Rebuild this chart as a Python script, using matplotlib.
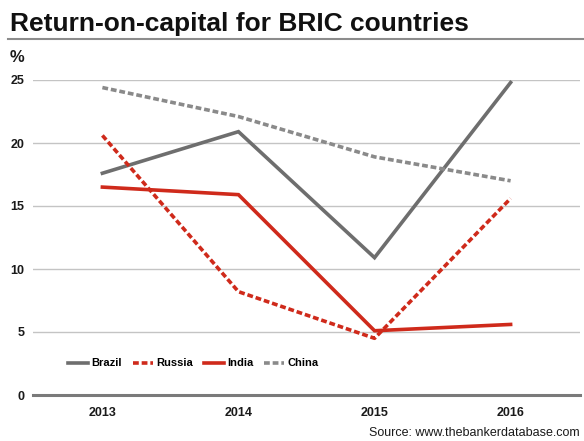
import matplotlib
matplotlib.use("Agg")
import matplotlib.pyplot as plt
from matplotlib.lines import Line2D

years = [2013, 2014, 2015, 2016]
brazil = [17.6, 20.9, 10.9, 24.8]
russia = [20.6, 8.2, 4.5, 15.6]
india = [16.5, 15.9, 5.1, 5.6]
china = [24.4, 22.1, 18.9, 17.0]
y_ticks = [0, 5, 10, 15, 20, 25]

RED = "#cf2a1b"
GREY = "#6e6e6e"
GREY_LIGHT = "#8a8a8a"
DASH = (0, (1.6, 0.8))

plt.rcParams["font.family"] = ["Liberation Sans", "DejaVu Sans"]

fig = plt.figure(figsize=(5.84, 4.41), dpi=100)
ax = fig.add_axes([33 / 584, 46 / 441, 547 / 584, 315 / 441])

ax.plot(years, brazil, color=GREY, lw=2.6, solid_joinstyle="miter", clip_on=False)
ax.plot(years, china, color=GREY_LIGHT, lw=2.6, ls=DASH, clip_on=False)
ax.plot(years, india, color=RED, lw=2.6, solid_joinstyle="miter", clip_on=False)
ax.plot(years, russia, color=RED, lw=2.6, ls=DASH, clip_on=False)

ax.set_xlim(2012.49, 2016.51)
ax.set_ylim(0, 25)
ax.set_xticks(years)
ax.set_yticks(y_ticks)
ax.set_yticklabels([str(v) for v in y_ticks])
ax.tick_params(length=0, labelsize=9, colors="#1a1a1a")
ax.tick_params(axis="y", pad=6)
ax.tick_params(axis="x", pad=9)
for lab in ax.get_xticklabels() + ax.get_yticklabels():
    lab.set_fontweight("bold")

ax.grid(axis="y", color="#c4c4c4", lw=1)
ax.set_axisbelow(True)
for s in ax.spines.values():
    s.set_visible(False)
ax.axhline(0, color="#7a7a7a", lw=2.2, clip_on=False, zorder=1)

handles = [
    Line2D([], [], color=GREY, lw=2.6),
    Line2D([], [], color=RED, lw=2.6, ls=DASH),
    Line2D([], [], color=RED, lw=2.6),
    Line2D([], [], color=GREY_LIGHT, lw=2.6, ls=DASH),
]
leg = ax.legend(handles, ["Brazil", "Russia", "India", "China"], ncol=4,
                loc="center left", bbox_to_anchor=(0.045, 0.1), frameon=False,
                handlelength=1.8, handletextpad=0.3, columnspacing=1.0,
                prop={"weight": "bold", "size": 8})

fig.text(10 / 584, 1 - 31 / 441, "Return-on-capital for BRIC countries",
         fontsize=19, fontweight="bold", color="#111111", ha="left", va="baseline")
fig.add_artist(Line2D([8 / 584, 1.0], [1 - 38.5 / 441] * 2, color="#8c8c8c", lw=1.5))
fig.text(10 / 584, 1 - 62 / 441, "%", fontsize=12, fontweight="bold", color="#1a1a1a",
         ha="left", va="baseline")
fig.text(580 / 584, 1 - 436 / 441, "Source: www.thebankerdatabase.com", fontsize=9,
         color="#1a1a1a", ha="right", va="baseline")

fig.savefig("out.png", dpi=100)
